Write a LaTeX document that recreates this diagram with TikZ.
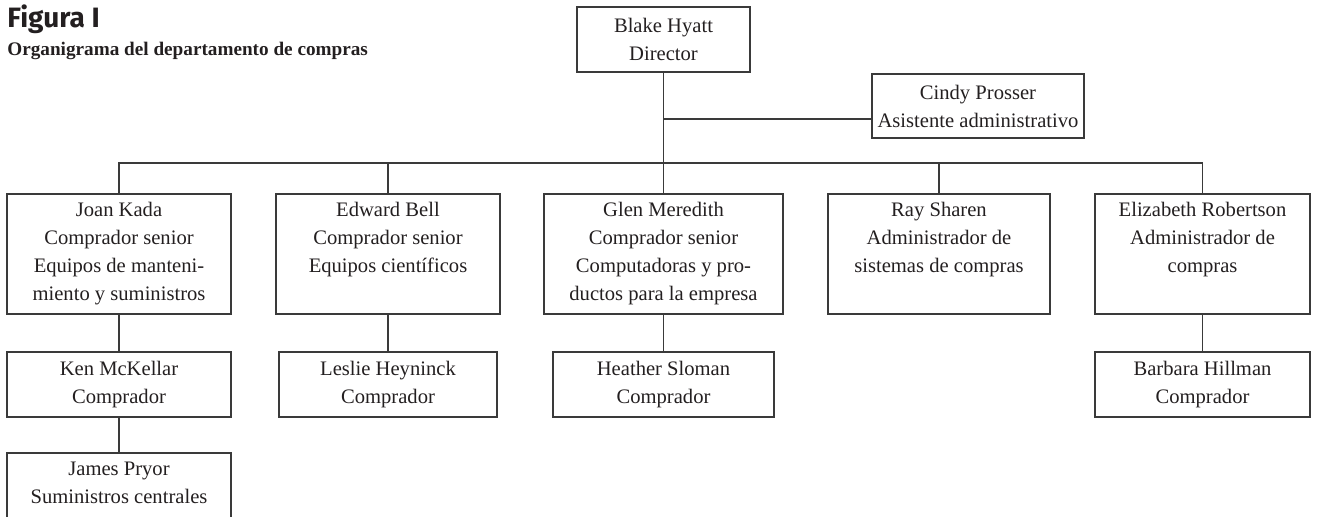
\documentclass[tikz,border=0pt]{standalone}
\usepackage{fontspec}
\setmainfont{Liberation Serif}
\newfontfamily\headsans{Fira Sans}
\usetikzlibrary{calc}
\definecolor{ink}{HTML}{231F20}
\definecolor{rule}{HTML}{3A3A3A}
\begin{document}
\begin{tikzpicture}[x=0.5pt,y=-0.5pt,
  orgbox/.style={draw=rule, line width=0.7pt, rectangle, inner sep=0pt, outer sep=0pt,
    align=center, text=ink, font=\fontsize{10.3pt}{14pt}\selectfont},
  toprow/.style={orgbox, minimum height=32.5pt},
  midrow/.style={orgbox, minimum height=60pt},
  lowrow/.style={orgbox, minimum height=32.5pt},
  link/.style={draw=rule, line width=0.7pt}]
\useasboundingbox (0,0) rectangle (1317,516);
\clip (0,0) rectangle (1317,516);

% heading
\node[anchor=base west, inner sep=0pt, text=ink, font=\headsans\bfseries\fontsize{14pt}{16pt}\selectfont]
  (fig) at (7,27) {Figura I};
\node[anchor=base west, inner sep=0pt, text=ink, font=\bfseries\fontsize{9.6pt}{12pt}\selectfont]
  (sub) at (7,55) {Organigrama del departamento de compras};

% director and assistant
\node[toprow, minimum width=86.5pt] (blake) at (663.5,39.5) {Blake Hyatt\\Director};
\node[toprow, minimum width=106pt, minimum height=32pt] (cindy) at (978,106) {Cindy Prosser\\Asistente administrativo};

% second level
\node[midrow, minimum width=112pt] (joan) at (119,254)
  {Joan Kada\\Comprador senior\\Equipos de manteni-\\miento y suministros};
\node[midrow, minimum width=112pt] (edward) at (388,254)
  {Edward Bell\\Comprador senior\\Equipos científicos\\\phantom{Ag}};
\node[midrow, minimum width=119.5pt] (glen) at (663.5,254)
  {Glen Meredith\\Comprador senior\\Computadoras y pro-\\ductos para la empresa};
\node[midrow, minimum width=111pt] (ray) at (939,254)
  {Ray Sharen\\Administrador de\\sistemas de compras\\\phantom{Ag}};
\node[midrow, minimum width=107.5pt] (eliz) at (1202.5,254)
  {Elizabeth Robertson\\Administrador de\\compras\\\phantom{Ag}};

% third level
\node[lowrow, minimum width=112pt] (ken) at (119,384.5) {Ken McKellar\\Comprador};
\node[lowrow, minimum width=109pt] (leslie) at (388,384.5) {Leslie Heyninck\\Comprador};
\node[lowrow, minimum width=110.5pt] (heather) at (663.5,384.5) {Heather Sloman\\Comprador};
\node[lowrow, minimum width=107.5pt] (barbara) at (1202.5,384.5) {Barbara Hillman\\Comprador};

% fourth level (runs past the lower edge)
\node[orgbox, minimum width=112pt, minimum height=45pt, anchor=north] (james) at (119,453) {};
\node[anchor=north, inner sep=0pt, align=center, text=ink, font=\fontsize{10.3pt}{14pt}\selectfont]
  (jamestext) at ($(james.north)+(0,9)$) {James Pryor\\Suministros centrales};

% connectors
\coordinate (busy) at (0,163);
\coordinate (assty) at (0,119);
\draw[link] (blake.south) -- (glen.north);
\draw[link] (blake.south |- assty) -- (cindy.west |- assty);
\draw[link] (joan.north) -- (joan.north |- busy) -- (eliz.north |- busy) -- (eliz.north);
\draw[link] (edward.north) -- (edward.north |- busy);
\draw[link] (ray.north) -- (ray.north |- busy);
\draw[link] (joan.south) -- (ken.north);
\draw[link] (ken.south) -- (james.north);
\draw[link] (edward.south) -- (leslie.north);
\draw[link] (glen.south) -- (heather.north);
\draw[link] (eliz.south) -- (barbara.north);
\end{tikzpicture}
\end{document}
